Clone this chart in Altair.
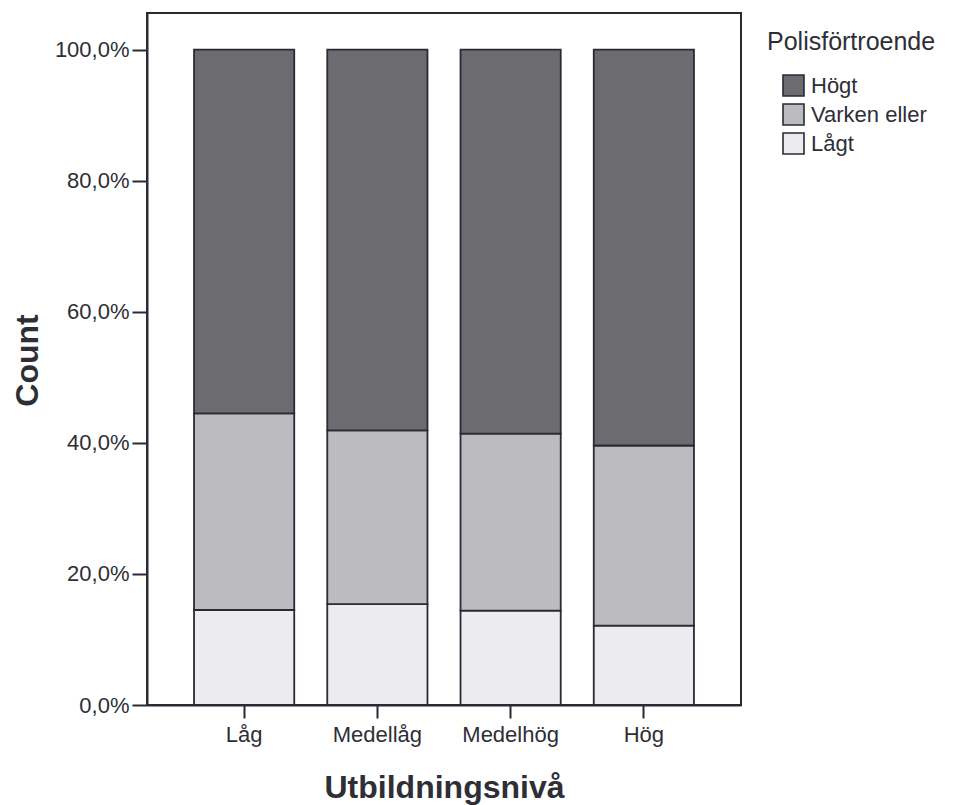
import altair as alt
import pandas as pd

categories = ["Låg", "Medellåg", "Medelhög", "Hög"]
levels = ["Högt", "Varken eller", "Lågt"]
hogt = [55.5, 58.1, 58.6, 60.4]
varken = [30.0, 26.5, 27.0, 27.5]
lagt = [14.5, 15.4, 14.4, 12.1]
y_ticks = [0, 20, 40, 60, 80, 100]
colors = ["#6c6c70", "#bcbcc0", "#ececee"]

rows = []
for i, c in enumerate(categories):
    rows.append({"cat": c, "level": "Lågt", "value": lagt[i], "ord": 0})
    rows.append({"cat": c, "level": "Varken eller", "value": varken[i], "ord": 1})
    rows.append({"cat": c, "level": "Högt", "value": hogt[i], "ord": 2})
df = pd.DataFrame(rows)

FONT = "Liberation Sans"
INK = "#2a2a35"
TXT = "#2e2e36"

chart = alt.Chart(df).mark_bar(stroke=INK, strokeWidth=1.8).encode(
    x=alt.X(
        "cat:N",
        sort=categories,
        scale=alt.Scale(paddingInner=0.248, paddingOuter=0.353),
        axis=alt.Axis(
            title="Utbildningsnivå",
            labelAngle=0,
            labelFont=FONT,
            labelFontSize=22,
            labelColor=TXT,
            labelPadding=6,
            tickSize=13,
            tickWidth=2,
            tickColor=INK,
            domainColor=INK,
            domainWidth=2,
            titleFont=FONT,
            titleFontSize=32,
            titleFontWeight="bold",
            titleColor=TXT,
            titleBaseline="alphabetic",
            titleX=297,
            titleY=92,
            grid=False,
        ),
    ),
    y=alt.Y(
        "value:Q",
        stack="zero",
        scale=alt.Scale(domain=[0, 105.6], nice=False, zero=True),
        axis=alt.Axis(
            title="Count",
            values=y_ticks,
            labelExpr="replace(format(datum.value, '.1f'), '.', ',') + '%'",
            labelFont=FONT,
            labelFontSize=22,
            labelColor=TXT,
            labelPadding=3,
            tickSize=15,
            tickWidth=2,
            tickColor=INK,
            domainColor=INK,
            domainWidth=2,
            titleFont=FONT,
            titleFontSize=32,
            titleFontWeight="bold",
            titleColor=TXT,
            titleBaseline="alphabetic",
            titleAlign="center",
            titleAngle=270,
            titleX=-110,
            titleY=347,
            grid=False,
        ),
    ),
    color=alt.Color(
        "level:N",
        scale=alt.Scale(domain=levels, range=colors),
        legend=alt.Legend(
            title="Polisförtroende",
            orient="none",
            legendX=620,
            legendY=17,
            padding=0,
            titleFont=FONT,
            titleFontSize=25,
            titleFontWeight="normal",
            titleColor=TXT,
            titlePadding=19,
            labelFont=FONT,
            labelFontSize=22,
            labelColor=TXT,
            labelOffset=6,
            symbolType="square",
            symbolSize=441,
            symbolStrokeColor=INK,
            symbolStrokeWidth=1.6,
            symbolOffset=15,
            rowPadding=0,
        ),
    ),
    order=alt.Order("ord:Q", sort="ascending"),
).properties(
    width=594,
    height=692,
    autosize=alt.AutoSizeParams(type="none"),
    padding={"left": 139, "top": 5, "right": 200, "bottom": 100},
    background="white",
).configure_view(
    stroke=INK,
    strokeWidth=2,
)

chart.save("out.html", embed_options={"renderer": "svg", "actions": False})
